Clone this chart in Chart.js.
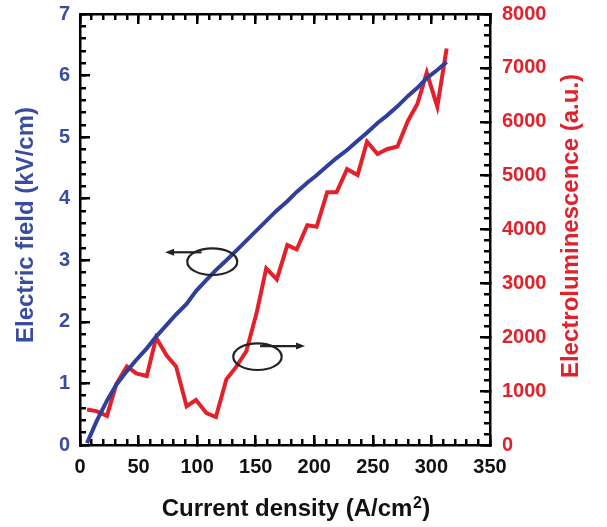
<!DOCTYPE html>
<html>
<head>
<meta charset="utf-8">
<script src="https://cdn.jsdelivr.net/npm/chart.js@4.4.1/dist/chart.umd.min.js"></script>
<style>
  body { margin: 0; background: #fff; }
  canvas { display: block; }
</style>
</head>
<body>
<canvas id="elChart" width="607" height="527"></canvas>
<script>
// current density (A/cm2) for each measurement
const currentDensity = [6, 14, 23, 31, 40, 48, 57, 65, 74, 82, 91, 99, 108, 116, 125, 133, 142, 151, 159, 168,
  177, 185, 194, 202, 211, 219, 228, 237, 245, 254, 262, 271, 280, 288, 296, 305, 313];
// electric field (kV/cm), left axis
const electricField = [0.03, 0.38, 0.72, 0.98, 1.20, 1.38, 1.57, 1.76, 1.95, 2.12, 2.29, 2.50, 2.68, 2.84, 3.00, 3.15,
  3.32, 3.49, 3.64, 3.81, 3.96, 4.11, 4.26, 4.38, 4.53, 4.66, 4.79, 4.94, 5.07, 5.23, 5.35, 5.50, 5.67, 5.80, 5.96, 6.09, 6.22];
// electroluminescence (a.u.), right axis
const electroluminescence = [660, 630, 540, 1130, 1460, 1330, 1280, 1990, 1660, 1460, 720, 835, 590, 520, 1220, 1440,
  1740, 2475, 3280, 3075, 3710, 3630, 4080, 4050, 4690, 4690, 5120, 5010, 5630, 5400, 5490, 5540, 6020, 6330, 6910, 6280, 7360];

const xTicks = [0, 50, 100, 150, 200, 250, 300, 350];
const fieldTicks = [0, 1, 2, 3, 4, 5, 6, 7];
const elTicks = [0, 1000, 2000, 3000, 4000, 5000, 6000, 7000, 8000];

// minor tick steps
const xMinor = Array.from({ length: 36 }, (_, i) => i * 10);
const fieldMinor = Array.from({ length: 36 }, (_, i) => +(i * 0.2).toFixed(1));
const elMinor = Array.from({ length: 41 }, (_, i) => i * 200);

const BLUE = "#2f409c";
const BLUE_TEXT = "#3a4ca2";
const RED = "#e3212a";
const FONT = "'Liberation Sans', Arial, Helvetica, sans-serif";
const tickFont = { family: FONT, size: 20, weight: "bold" };

function ticksFrom(list) {
    return scale => { scale.ticks = list.map(v => ({ value: v })); };
}

// keep the plot box where the reference has it: no extra room for overhanging labels
function fixSize(w, h) {
    return s => {
        s.width = w;
        s.height = h;
        s.paddingTop = 0; s.paddingBottom = 0;
        s.paddingLeft = 0; s.paddingRight = 0;
    };
}

// inward tick marks come from the axis grid with a negative tick length
function inwardGrid(len) {
    return { display: true, drawOnChartArea: false, drawTicks: true, tickLength: -len, tickWidth: 2.5, lineWidth: 2.5, tickColor: "#000" };
}
const frameBorder = { display: true, color: "#000", width: 2.5 };
const noBorder = { display: false };

// an unlabelled axis that only contributes tick marks
function tickAxis(position, min, max, list, len) {
    const horizontal = position === "top" || position === "bottom";
    return {
        type: "linear",
        position,
        min, max,
        weight: 0,
        afterBuildTicks: ticksFrom(list),
        afterFit: horizontal ? (s => { s.height = 0; s.paddingLeft = 0; s.paddingRight = 0; })
                             : (s => { s.width = 0; s.paddingTop = 0; s.paddingBottom = 0; }),
        grid: inwardGrid(len),
        border: noBorder,
        ticks: { display: false, callback: () => "" }
    };
}

// the two ellipse+arrow markers and the axis titles
const decorPlugin = {
    id: "decor",
    afterDraw(chart) {
        const ctx = chart.ctx;
        const xs = chart.scales.x, yl = chart.scales.y, yr = chart.scales.y1;

        ctx.save();
        ctx.strokeStyle = "#222";
        ctx.fillStyle = "#222";
        ctx.lineWidth = 2.2;
        const drawArrow = (x1, y, x2) => {
            const dir = Math.sign(x2 - x1);
            ctx.beginPath();
            ctx.moveTo(x1, y); ctx.lineTo(x2 - dir * 6, y);
            ctx.stroke();
            ctx.beginPath();
            ctx.moveTo(x2, y);
            ctx.lineTo(x2 - dir * 9, y - 3.5);
            ctx.lineTo(x2 - dir * 9, y + 3.5);
            ctx.closePath();
            ctx.fill();
        };
        ctx.beginPath();
        ctx.ellipse(xs.getPixelForValue(112.9), yl.getPixelForValue(2.977), 25, 13.3, 0, 0, Math.PI * 2);
        ctx.stroke();
        drawArrow(xs.getPixelForValue(103.8), yl.getPixelForValue(3.13), xs.getPixelForValue(72.6));
        ctx.beginPath();
        ctx.ellipse(xs.getPixelForValue(151.5), yr.getPixelForValue(1639), 24.2, 13.3, 0, 0, Math.PI * 2);
        ctx.stroke();
        drawArrow(xs.getPixelForValue(153.7), yr.getPixelForValue(1837), xs.getPixelForValue(192.1));

        // axis titles
        ctx.font = "bold 24px " + FONT;
        ctx.textBaseline = "alphabetic";
        ctx.textAlign = "center";

        ctx.save();
        ctx.translate(33, 225);
        ctx.rotate(-Math.PI / 2);
        ctx.fillStyle = BLUE_TEXT;
        ctx.fillText("Electric field (kV/cm)", 0, 0);
        ctx.restore();

        ctx.save();
        ctx.translate(578, 226);
        ctx.rotate(-Math.PI / 2);
        ctx.fillStyle = RED;
        ctx.fillText("Electroluminescence (a.u.)", 0, 0);
        ctx.restore();

        ctx.fillStyle = "#111";
        ctx.textAlign = "left";
        const main = "Current density (A/cm";
        const wMain = ctx.measureText(main).width;
        const wClose = ctx.measureText(")").width;
        ctx.font = "bold 16px " + FONT;
        const wSup = ctx.measureText("2").width;
        const total = wMain + wSup + wClose + 1;
        const tx = 296 - total / 2;
        ctx.font = "bold 24px " + FONT;
        ctx.fillText(main, tx, 516);
        ctx.font = "bold 16px " + FONT;
        ctx.fillText("2", tx + wMain + 0.5, 508);
        ctx.font = "bold 24px " + FONT;
        ctx.fillText(")", tx + wMain + wSup + 1, 516);
        ctx.restore();
    }
};

const plain = v => String(v);

new Chart(document.getElementById("elChart").getContext("2d"), {
    type: "line",
    data: {
        datasets: [
            {
                label: "Electric field",
                data: currentDensity.map((x, i) => ({ x, y: electricField[i] })),
                borderColor: BLUE,
                borderWidth: 4,
                pointRadius: 0,
                yAxisID: "y"
            },
            {
                label: "Electroluminescence",
                data: currentDensity.map((x, i) => ({ x, y: electroluminescence[i] })),
                borderColor: RED,
                borderWidth: 4,
                pointRadius: 0,
                yAxisID: "y1"
            }
        ]
    },
    options: {
        responsive: false,
        animation: false,
        devicePixelRatio: 1,
        layout: { padding: { top: 14, left: 0, right: 0, bottom: 0 } },
        plugins: { legend: { display: false }, tooltip: { enabled: false } },
        scales: {
            x: {
                type: "linear",
                position: "bottom",
                weight: 1,
                min: 0, max: 350,
                afterBuildTicks: ticksFrom(xTicks),
                afterFit: fixSize(undefined, 82),
                grid: inwardGrid(10),
                border: frameBorder,
                ticks: { color: "#111", padding: 20, autoSkip: false, maxRotation: 0, callback: plain, font: tickFont }
            },
            xMinor: tickAxis("bottom", 0, 350, xMinor, 6),
            xTop: Object.assign(tickAxis("top", 0, 350, xTicks, 10), { weight: 1, border: frameBorder }),
            xTopMinor: tickAxis("top", 0, 350, xMinor, 6),
            y: {
                type: "linear",
                position: "left",
                weight: 1,
                min: 0, max: 7,
                afterBuildTicks: ticksFrom(fieldTicks),
                afterFit: fixSize(80, undefined),
                grid: inwardGrid(10),
                border: frameBorder,
                ticks: { color: BLUE_TEXT, padding: 20, autoSkip: false, callback: plain, font: tickFont }
            },
            yMinor: tickAxis("left", 0, 7, fieldMinor, 6),
            y1: {
                type: "linear",
                position: "right",
                weight: 1,
                min: 0, max: 8000,
                afterBuildTicks: ticksFrom(elTicks),
                afterFit: fixSize(117, undefined),
                grid: inwardGrid(10),
                border: frameBorder,
                ticks: { color: RED, padding: 22, autoSkip: false, callback: plain, font: tickFont }
            },
            y1Minor: tickAxis("right", 0, 8000, elMinor, 6)
        }
    },
    plugins: [decorPlugin]
});
</script>
</body>
</html>
